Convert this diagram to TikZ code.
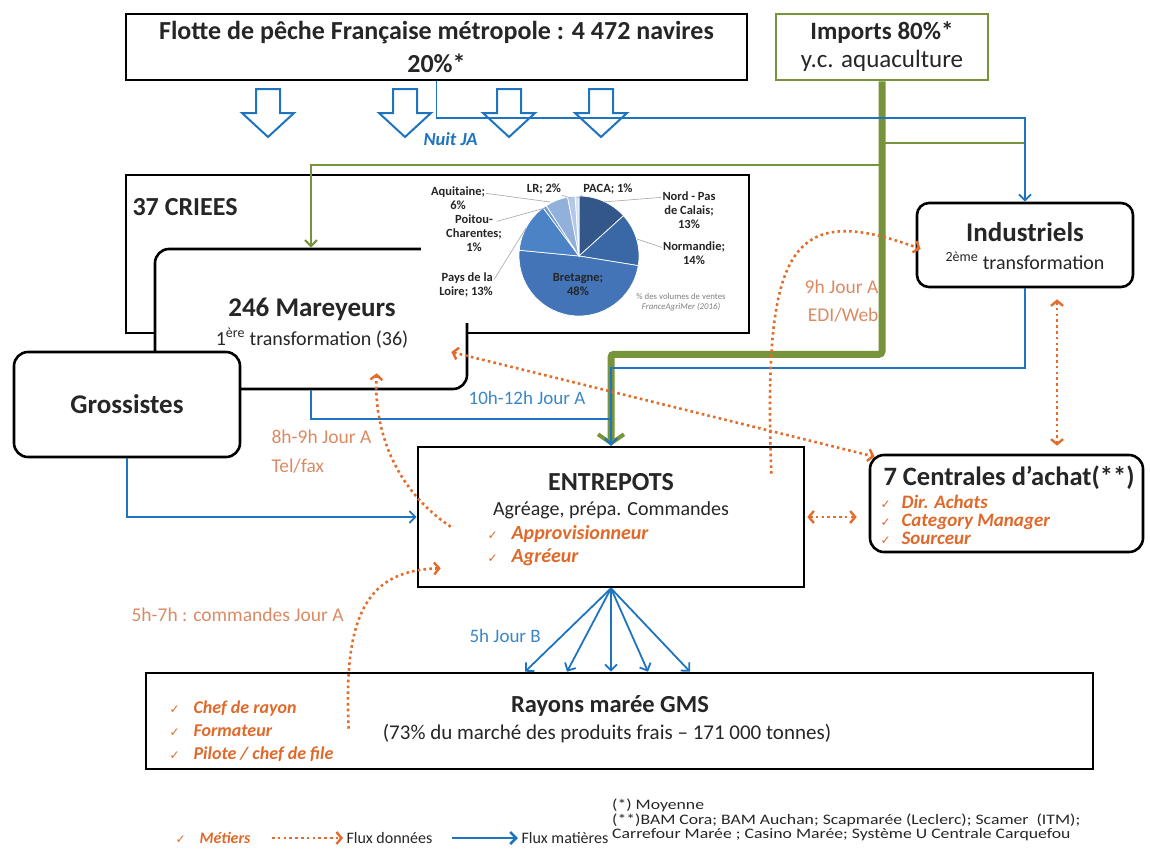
\documentclass[tikz,border=0pt]{standalone}
\usepackage{fontspec}
\setmainfont{Carlito}
\newfontfamily\symb{DejaVu Sans}
\usetikzlibrary{arrows.meta, positioning, calc}

\definecolor{encre}{HTML}{262626}
\definecolor{bleu}{HTML}{1F74C0}
\definecolor{bleuT}{HTML}{3A86C6}
\definecolor{vert}{HTML}{77933C}
\definecolor{orangeF}{HTML}{E46C2A}
\definecolor{orangeT}{HTML}{E0692A}
\definecolor{orangeC}{HTML}{DB8A62}
\definecolor{pieA}{HTML}{34578A}
\definecolor{pieB}{HTML}{3A67A6}
\definecolor{pieC}{HTML}{4274B7}
\definecolor{pieD}{HTML}{4C83C6}
\definecolor{pieE}{HTML}{6F9BD0}
\definecolor{pieF}{HTML}{91B0DA}
\definecolor{pieG}{HTML}{B3C8E6}
\definecolor{pieH}{HTML}{D5E1F1}

\newcommand{\coche}{{\symb\mdseries\upshape\fontsize{12}{12}\selectfont ✓}}

\begin{document}
\begin{tikzpicture}[x=1pt, y=-1pt,
  boite/.style={draw=black, line width=2.6pt, fill=white},
  arrondi/.style={boite, rounded corners=14pt},
  titre/.style={text=encre, font=\fontsize{26}{33}\selectfont\bfseries},
  sous/.style={text=encre, font=\fontsize{20}{24}\selectfont},
  metier/.style={text=orangeT, font=\fontsize{20}{24}\selectfont\bfseries\itshape},
  horaire/.style={text=orangeC, font=\fontsize{19.5}{23}\selectfont},
  horbleu/.style={text=bleuT, font=\fontsize{19}{22}\selectfont},
  part/.style={text=encre, font=\fontsize{12.5}{14}\selectfont\bfseries, align=center, inner sep=1pt},
  repere/.style={draw=gray!70, line width=0.6pt},
  flux/.style={draw=bleu, line width=1.8pt, -{Straight Barb[length=6pt, width=12pt]}},
  fluxvert/.style={draw=vert, line width=2.2pt, -{Straight Barb[length=6pt, width=12pt]}},
  vertfort/.style={draw=vert, line width=7pt, rounded corners=3pt,
    -{Straight Barb[length=9pt, width=26pt, line width=4pt]}},
  donnee/.style={draw=orangeF, line width=2.6pt, dash pattern=on 2.6pt off 3.2pt,
    -{Straight Barb[length=5pt, width=12pt, line width=2.4pt]}},
  donnees/.style={donnee, {Straight Barb[length=5pt, width=12pt, line width=2.4pt]}-{Straight Barb[length=5pt, width=12pt, line width=2.4pt]}}
]
\useasboundingbox (0,0) rectangle (1150,854);

% boites du haut
\node[boite, minimum width=621pt, minimum height=66pt, titre, align=center] (flotte) at (436.5,47)
  {Flotte de pêche Française métropole : 4 472 navires\\20\%*};
\node[boite, draw=vert, minimum width=212pt, minimum height=66pt, align=center, text=encre,
  font=\fontsize{25}{28}\selectfont] (imports) at (882,47) {{\bfseries Imports 80\%*}\\y.c. aquaculture};

\foreach \xx in {268,405,509,601}
  \draw[bleu, line width=2pt] (\xx-12,89) -- (\xx+12,89) -- (\xx+12,113) -- (\xx+26,113)
    -- (\xx,137) -- (\xx-26,113) -- (\xx-12,113) -- cycle;

% criees et mareyeurs
\node[boite, minimum width=623pt, minimum height=158pt] (criees) at (437.5,254) {};
\node[titre, anchor=west] (lCriees) at (129,207) {37 CRIEES};
\node[arrondi, minimum width=312pt, minimum height=140pt] (mareyeurs) at (311,319) {};
\node[titre, font=\fontsize{27}{30}\selectfont\bfseries] (lMar) at (312,309) {246 Mareyeurs};
\node[sous] (lMar2) at (312,338) {1\textsuperscript{ère} transformation (36)};
\fill[white] (421,178) rectangle (746,323);

% camembert
\begin{scope}[shift={(579,256)}, yscale=-1]
  \foreach \a/\b/\c in {90/42.2/pieA, 42.2/-9.2/pieB, -9.2/-185.5/pieC, -185.5/-233.3/pieD,
      -233.3/-236.9/pieE, -236.9/-259/pieF, -259/-266.3/pieG, -266.3/-270/pieH}
    \filldraw[fill=\c, draw=white, line width=0.7pt] (0,0) -- (\a:60) arc[start angle=\a, end angle=\b, radius=60] -- cycle;
\end{scope}
\node[part] (pBre) at (578,284) {Bretagne;\\48\%};
\node[part] (pNpc) at (689,210) {Nord - Pas\\de Calais;\\13\%};
\node[part] (pNor) at (694,253) {Normandie;\\14\%};
\node[part, align=right, anchor=east] (pPdl) at (494,285) {Pays de la\\Loire; 13\%};
\node[part] (pPoi) at (474,233) {Poitou-\\Charentes;\\1\%};
\node[part] (pAqu) at (458,198) {Aquitaine;\\6\%};
\node[part] (pLr) at (544,189) {LR; 2\%};
\node[part] (pPaca) at (608,189) {PACA; 1\%};
\draw[repere] (pAqu.north east) ++(0,8) -- (550,202);
\draw[repere] (pPoi.north east) ++(-6,8) -- (545,208);
\draw[repere] (pPdl.north east) ++(0,8) -- (526,228);
\draw[repere] (pLr.south east) -- (571,198);
\draw[repere] (pPaca.south west) -- (577,198);
\draw[repere] (pNpc.north west) ++(0,7) -- (603,202);
\draw[repere] (pNor.north west) ++(0,7) -- (637,239);
\node[text=gray, font=\fontsize{8.8}{10}\selectfont, align=center] (source) at (681,302)
  {\% des volumes de ventes\\\textit{FranceAgriMer (2016)}};

% autres boites
\node[arrondi, minimum width=226pt, minimum height=105pt, titre, font=\fontsize{27}{30}\selectfont\bfseries] (gros) at (127,404.5) {Grossistes};
\node[arrondi, rounded corners=12pt, minimum width=216pt, minimum height=84pt] (indus) at (1025,245) {};
\node[titre, font=\fontsize{27}{30}\selectfont\bfseries] (lInd) at (1025,232) {Industriels};
\node[sous] (lInd2) at (1025,261) {\textsuperscript{2ème} transformation};

\node[boite, minimum width=386pt, minimum height=140pt] (entrepots) at (611,517) {};
\node[titre] (lEnt) at (611,482) {ENTREPOTS};
\node[sous] (lEnt2) at (611,510) {Agréage, prépa. Commandes};
\node[metier, anchor=west] (lAppro) at (484,534) {\coche\hspace{14pt}Approvisionneur};
\node[metier, anchor=west] (lAgreeur) at (484,557) {\coche\hspace{14pt}Agréeur};

\node[arrondi, minimum width=273pt, minimum height=97pt] (centrales) at (1006.5,503.5) {};
\node[titre, font=\fontsize{26.5}{30}\selectfont\bfseries] (lCen) at (1009,478) {7 Centrales d’achat(**)};
\node[metier, anchor=west, align=left, font=\fontsize{19}{18}\selectfont\bfseries\itshape] (lCen2) at (877,520)
  {\coche\hspace{11pt}Dir. Achats\\\coche\hspace{11pt}Category Manager\\\coche\hspace{11pt}Sourceur};

\node[boite, minimum width=947pt, minimum height=96pt] (rayons) at (619.5,721) {};
\node[titre, font=\fontsize{24.5}{28}\selectfont\bfseries] (lRay) at (610,706) {Rayons marée GMS};
\node[sous, font=\fontsize{21}{24}\selectfont] (lRay2) at (607,733) {(73\% du marché des produits frais – 171 000 tonnes)};
\node[metier, anchor=west, align=left, font=\fontsize{18}{23}\selectfont\bfseries\itshape] (lRay3) at (166,731)
  {\coche\hspace{14pt}Chef de rayon\\\coche\hspace{14pt}Formateur\\\coche\hspace{14pt}Pilote / chef de file};

% flux matieres
\draw[vertfort] (imports.south) -- ++(0,273) -| (entrepots.north);
\draw[fluxvert] ([yshift=-84pt]imports.south) -| (mareyeurs.north);
\draw[vert, line width=2.2pt] ([yshift=-62pt]imports.south) -- ++(143,0);
\draw[flux] (flotte.south) -- ++(0,37) -| (indus.north);
\draw[flux] (indus.south) -- ++(0,80) -| (entrepots.north);
\draw[flux] (mareyeurs.south) -- ++(0,29) -| (entrepots.north);
\draw[flux] (gros.south) |- (entrepots.west);
\foreach \dx in {-86,-44,0,37,79}
  \draw[flux] (entrepots.south) -- ($(entrepots.south |- rayons.north)+(\dx,0)$);

% flux donnees
\coordinate (dA) at ($(entrepots.north west)+(34,81)$);
\coordinate (dB) at ($(mareyeurs.south west)+(223,-17)$);
\draw[donnee] (dA) .. controls +(-60,-40) and +(-3,50) .. (dB);
\coordinate (dC) at ($(rayons.north west)+(204,57)$);
\coordinate (dD) at ($(entrepots.south west)+(24,-20)$);
\draw[donnee] (dC) .. controls +(-6,-120) and +(-70,2) .. (dD);
\coordinate (dE) at ($(entrepots.north east)+(-34,28)$);
\coordinate (dF) at ($(indus.west)+(5,4)$);
\draw[donnee] (dE) .. controls +(-8,-225) and +(-132,-49) .. (dF);
\coordinate (dG) at ($(mareyeurs.east)+(-17,33)$);
\draw[donnees] (dG) -- ($(centrales.north west)+(6,3)$);
\draw[donnees, shorten <=2pt, shorten >=12pt] (entrepots.east) -- (entrepots.east -| centrales.west);
\coordinate (dH) at ($(indus.south)+(32,0)$);
\draw[donnees, shorten <=11pt, shorten >=8pt] (dH) -- (dH |- centrales.north);

% horaires
\node[text=bleu, font=\fontsize{18.5}{22}\selectfont\bfseries\itshape, anchor=west] (hNuit) at (420,139) {Nuit JA};
\node[horbleu] (h10) at (527,398) {10h-12h Jour A};
\node[horaire, anchor=west, align=left, font=\fontsize{19.5}{29}\selectfont] (h8) at (268,452) {8h-9h Jour A\\Tel/fax};
\node[horaire, anchor=east, align=right, font=\fontsize{19.5}{28}\selectfont] (h9) at (882,301) {9h Jour A\\EDI/Web};
\node[horaire, anchor=west] (h5) at (128,615) {5h-7h : commandes Jour A};
\node[horbleu, anchor=west] (h5b) at (466,636) {5h Jour B};

% legende
\node[metier, anchor=west, font=\fontsize{16}{19}\selectfont\bfseries\itshape] (lgMet) at (172,838) {\coche\hspace{14pt}Métiers};
\node[text=encre, font=\fontsize{16}{19}\selectfont, anchor=west] (lgDon) at (343,838) {Flux données};
\node[text=encre, font=\fontsize{16}{19}\selectfont, anchor=west] (lgMat) at (518,838) {Flux matières};
\coordinate (lgD) at (272,838);
\draw[donnee, line width=2pt] (lgD) -- (lgDon.west);
\coordinate (lgM) at (452,838);
\draw[flux, line width=2.6pt] (lgM) -- (lgMat.west);
\node[text=encre, font=\fontsize{14.5}{14.5}\selectfont\addfontfeature{FakeStretch=1.22}, anchor=north west,
  align=left, inner sep=0pt] (notes) at (612,799)
  {(*) Moyenne\\(**)BAM Cora; BAM Auchan; Scapmarée (Leclerc); Scamer\ \ (ITM);\\Carrefour Marée ; Casino Marée; Système U Centrale Carquefou};
\end{tikzpicture}
\end{document}
